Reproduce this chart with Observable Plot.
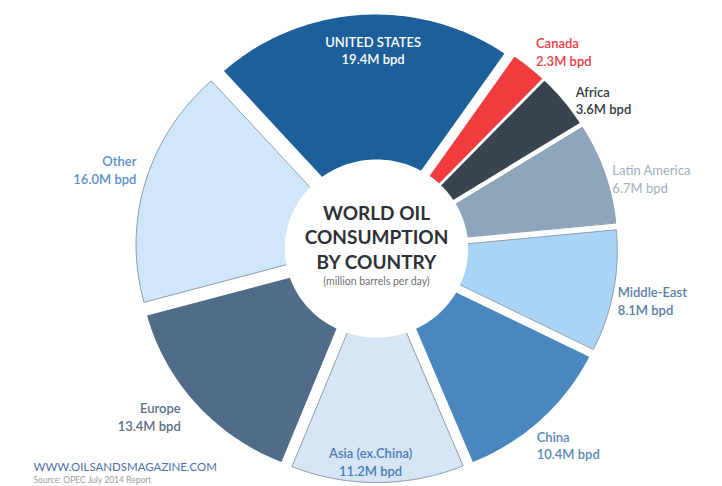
<!DOCTYPE html>
<html>
<head>
<meta charset="utf-8">
<script src="https://cdn.jsdelivr.net/npm/d3@7"></script>
<script src="https://cdn.jsdelivr.net/npm/@observablehq/plot@0.6"></script>
<style>
  html, body { margin: 0; padding: 0; background: #fff; }
  svg { display: block; font-family: Lato, "Open Sans", sans-serif; }
</style>
</head>
<body>
<div id="chart"></div>
<script>
// ---- data ----
const regions = ["UNITED STATES", "Canada", "Africa", "Latin America", "Middle-East", "China", "Asia (ex.China)", "Europe", "Other"];
const consumption = [19.4, 2.3, 3.6, 6.7, 8.1, 10.4, 11.2, 13.4, 16.0];
const sliceColors = ["#1c5f9b", "#f23b3c", "#3a444f", "#8ea6bb", "#a9d4f6", "#4a87bf", "#d7e6f5", "#516c88", "#d0e7fb"];
const labelColors = ["#ffffff", "#ee3d44", "#333a42", "#9eb0c2", "#5a7ea6", "#5b89b9", "#4a7cb5", "#5d7189", "#5c8fc7"];
const outlined = ["Middle-East", "Asia (ex.China)", "Other", "Latin America"];
const insideLabels = ["UNITED STATES", "Asia (ex.China)"];
const titleLines = ["WORLD OIL", "CONSUMPTION", "BY COUNTRY"];
const subtitle = "(million barrels per day)";
const footer = "WWW.OILSANDSMAGAZINE.COM";
const source = "Source: OPEC July 2014 Report";

// ---- layout ----
const W = 722, H = 486;
const CX = 376, CY = 248, XSTRETCH = 1.03;
const START = -42, R = 220, EXPLODE = 14, HOLE = 89;
const LABEL_R = 248, INSIDE_R = 203;
// small pixel nudges for label placement
const nudge = {
  "UNITED STATES": [10, 4], "Canada": [-2, -5], "Africa": [1, 8], "Latin America": [-6, 10],
  "Middle-East": [-10, 7], "China": [-14, 15], "Asia (ex.China)": [-7, 10], "Europe": [-5, 3], "Other": [5, -9]
};

const total = d3.sum(consumption);
const rad = a => a * Math.PI / 180;
let cum = 0;
const slices = regions.map((name, i) => {
  const a0 = START + cum / total * 360;
  cum += consumption[i];
  const a1 = START + cum / total * 360;
  return {name, value: consumption[i], a0, a1, mid: (a0 + a1) / 2, fill: sliceColors[i], label: labelColors[i]};
});

// polygon points for each (exploded) slice
const pts = [];
for (const s of slices) {
  const ox = EXPLODE * Math.sin(rad(s.mid)), oy = EXPLODE * Math.cos(rad(s.mid));
  pts.push({name: s.name, fill: s.fill, x: ox, y: oy});
  const n = Math.max(4, Math.ceil(s.a1 - s.a0));
  for (let k = 0; k <= n; k++) {
    const a = rad(s.a0 + (s.a1 - s.a0) * k / n);
    pts.push({name: s.name, fill: s.fill, x: ox + R * Math.sin(a), y: oy + R * Math.cos(a)});
  }
}
const holePts = d3.range(0, 361, 2).map(a => ({x: HOLE * Math.sin(rad(a)), y: HOLE * Math.cos(rad(a))}));

const labelMarks = slices.map(s => {
  const inside = insideLabels.includes(s.name);
  const r = inside ? INSIDE_R : LABEL_R;
  const sx = Math.sin(rad(s.mid));
  const anchor = inside ? "middle" : (sx > 0 ? "start" : "end");
  const [dx, dy] = nudge[s.name];
  return Plot.text([s], {
    x: d => r * Math.sin(rad(d.mid)),
    y: d => r * Math.cos(rad(d.mid)),
    dx, dy,
    text: d => `${d.name}\n${d.value.toFixed(1)}M bpd`,
    fill: s.label,
    textAnchor: anchor,
    lineAnchor: "middle",
    lineHeight: 1.35,
    fontSize: 13,
    fontWeight: s.name === "Latin America" ? 400 : 600
  });
});

const chart = Plot.plot({
  width: W, height: H,
  margin: 0, inset: 0,
  x: {domain: [-CX / XSTRETCH, (W - CX) / XSTRETCH], axis: null},
  y: {domain: [-(H - CY), CY], axis: null},
  color: {type: "identity"},
  marks: [
    Plot.line(pts, {x: "x", y: "y", z: "name", fill: "fill", stroke: null, curve: "linear-closed"}),
    Plot.line(pts.filter(p => outlined.includes(p.name)), {x: "x", y: "y", z: "name", stroke: "#8d9db0", strokeWidth: 1, curve: "linear-closed"}),
    Plot.line(holePts, {x: "x", y: "y", fill: "white", curve: "linear-closed"}),
    Plot.text(titleLines, {x: 0, y: (d, i) => 35 - i * 24.5, text: d => d, fontSize: 19, fontWeight: 700, fill: "#2e3135"}),
    Plot.text([subtitle], {x: 0, y: -33, text: d => d, fontSize: 10.5, fill: "#6d7075"}),
    ...labelMarks,
    Plot.text([footer], {frameAnchor: "bottom-left", dx: 33, dy: -16, text: d => d, textAnchor: "start", fontSize: 11.5, fill: "#4f72a8"}),
    Plot.text([source], {frameAnchor: "bottom-left", dx: 33, dy: -4, text: d => d, textAnchor: "start", fontSize: 8.5, fill: "#9a9ea4"})
  ]
});
document.getElementById("chart").append(chart);
</script>
</body>
</html>
